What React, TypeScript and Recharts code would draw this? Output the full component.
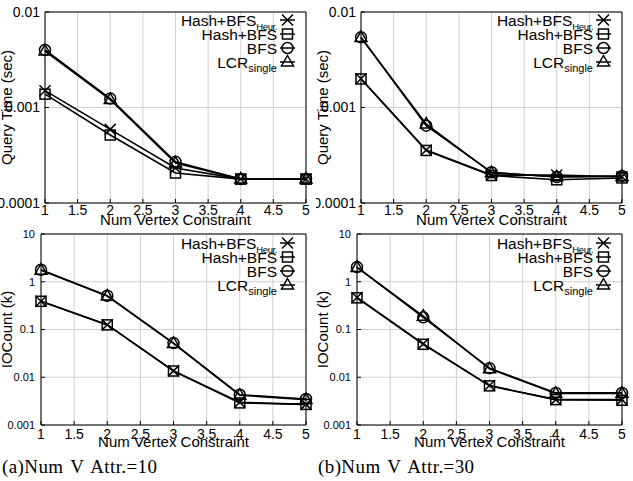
import React from 'react';
import { LineChart, Line, XAxis, YAxis, CartesianGrid, ReferenceArea, Legend, Label } from 'recharts';

const numConstraints = [1, 2, 3, 4, 5];
const xTicks = [1, 1.5, 2, 2.5, 3, 3.5, 4, 4.5, 5];
const timeTicks = [0.0001, 0.001, 0.01];
const ioTicks = [0.001, 0.01, 0.1, 1, 10];

// query time (sec), 10 vertex attributes
const timeHeur10 = [0.0015, 0.00059, 0.000233, 0.000178, 0.000178];
const timeHash10 = [0.00138, 0.000515, 0.000206, 0.000178, 0.000178];
const timeBfs10 = [0.004, 0.00124, 0.00027, 0.000178, 0.000178];
const timeLcr10 = [0.0039, 0.00121, 0.000262, 0.000178, 0.000178];

// query time (sec), 30 vertex attributes
const timeHeur30 = [0.002, 0.000359, 0.000196, 0.000196, 0.000188];
const timeHash30 = [0.00199, 0.000355, 0.000194, 0.000175, 0.000183];
const timeBfs30 = [0.00543, 0.000645, 0.00021, 0.000187, 0.000192];
const timeLcr30 = [0.0054, 0.00067, 0.000207, 0.000188, 0.00019];

// IO count (k), 10 vertex attributes
const ioHeur10 = [0.39, 0.126, 0.0136, 0.003, 0.0027];
const ioHash10 = [0.39, 0.125, 0.0135, 0.0029, 0.0027];
const ioBfs10 = [1.78, 0.51, 0.052, 0.0043, 0.0035];
const ioLcr10 = [1.75, 0.5, 0.051, 0.0042, 0.0034];

// IO count (k), 30 vertex attributes
const ioHeur30 = [0.47, 0.05, 0.0067, 0.0034, 0.0034];
const ioHash30 = [0.46, 0.049, 0.0066, 0.0034, 0.0033];
const ioBfs30 = [2.03, 0.18, 0.0155, 0.0047, 0.0047];
const ioLcr30 = [2.0, 0.19, 0.015, 0.0046, 0.0046];

type Shape = 'cross' | 'square' | 'circle' | 'triangle';

const seriesDefs: { key: string; label: string; sub?: string; subSize?: number; shape: Shape }[] = [
  { key: 'heur', label: 'Hash+BFS', sub: 'Heur.', subSize: 9.5, shape: 'cross' },
  { key: 'hash', label: 'Hash+BFS', shape: 'square' },
  { key: 'bfs', label: 'BFS', shape: 'circle' },
  { key: 'lcr', label: 'LCR', sub: 'single', subSize: 11, shape: 'triangle' },
];

const FONT = '"Liberation Sans", Arial, Helvetica, sans-serif';

function Marker({ shape, cx, cy }: { shape: Shape; cx: number; cy: number }) {
  const st = { stroke: '#000', strokeWidth: 1.5, fill: 'none' };
  if (shape === 'cross') {
    const s = 5.5;
    return <path d={`M${cx - s},${cy - s}L${cx + s},${cy + s}M${cx - s},${cy + s}L${cx + s},${cy - s}`} {...st} />;
  }
  if (shape === 'square') {
    return <rect x={cx - 5} y={cy - 5} width={10} height={10} {...st} />;
  }
  if (shape === 'circle') {
    return <circle cx={cx} cy={cy} r={5.5} {...st} />;
  }
  return <path d={`M${cx},${cy - 6.5}L${cx + 6},${cy + 4}L${cx - 6},${cy + 4}Z`} {...st} />;
}

// legend rows keep the plotting order, whatever order the payload arrives in
function LegendBox({ payload, baseline }: { payload?: any[]; baseline: number }) {
  const keys = new Set((payload || []).map((p) => p.dataKey));
  const items = seriesDefs.filter((d) => keys.has(d.key));
  return (
    <svg width={316} height={90} style={{ display: 'block', fontFamily: FONT }}>
      {items.map((d, i) => {
        const by = baseline + i * 14;
        const cy = by - 5.5;
        return (
          <g key={d.key}>
            <text x={277} y={by} textAnchor="end" fontSize={15.5} fill="#000">
              {d.label}
              {d.sub && (
                <tspan dy={4} fontSize={d.subSize} letterSpacing={d.shape === 'cross' ? -0.4 : 0}>
                  {d.sub}
                </tspan>
              )}
            </text>
            <line x1={280} x2={295} y1={cy} y2={cy} stroke="#000" strokeWidth={1.5} />
            <Marker shape={d.shape} cx={287.5} cy={cy} />
          </g>
        );
      })}
    </svg>
  );
}

interface PanelProps {
  left: number;
  top: number;
  marginTop: number;
  yAxisWidth: number;
  xAxisHeight: number;
  yTicks: number[];
  yLabel: string;
  xTickSize: number;
  yTickSize: number;
  xTickMargin: number;
  yTickMargin: number;
  xLabelOffset: number;
  legendBaseline: number;
  heur: number[];
  hash: number[];
  bfs: number[];
  lcr: number[];
}

function Panel(p: PanelProps) {
  const data = numConstraints.map((x, i) => ({
    x,
    heur: p.heur[i],
    hash: p.hash[i],
    bfs: p.bfs[i],
    lcr: p.lcr[i],
  }));
  const yMin = p.yTicks[0];
  const yMax = p.yTicks[p.yTicks.length - 1];
  return (
    <div style={{ position: 'absolute', left: p.left, top: p.top }}>
      <LineChart
        width={316}
        height={232}
        data={data}
        margin={{ top: p.marginTop, right: 10, bottom: 0, left: 0 }}
        style={{ fontFamily: FONT }}
      >
        <CartesianGrid stroke="#cfcfcf" strokeWidth={1} />
        <XAxis
          dataKey="x"
          type="number"
          domain={[1, 5]}
          ticks={xTicks}
          height={p.xAxisHeight}
          axisLine={false}
          tickLine={{ stroke: '#000' }}
          tickSize={-4}
          tickMargin={p.xTickMargin}
          tick={{ fill: '#000', fontSize: p.xTickSize }}
          interval={0}
        >
          <Label value="Num Vertex Constraint" position="insideBottom" offset={p.xLabelOffset} style={{ fontSize: 15, fill: '#000' }} />
        </XAxis>
        <YAxis
          type="number"
          scale="log"
          domain={[yMin, yMax]}
          allowDataOverflow
          ticks={p.yTicks}
          width={p.yAxisWidth}
          axisLine={false}
          tickLine={{ stroke: '#000' }}
          tickSize={-4}
          tickMargin={p.yTickMargin}
          tick={{ fill: '#000', fontSize: p.yTickSize }}
          tickFormatter={(v: number) => String(v)}
          interval={0}
        >
          <Label
            value={p.yLabel}
            angle={-90}
            position="insideLeft"
            offset={7}
            style={{ fontSize: 15, fill: '#000', textAnchor: 'middle' }}
          />
        </YAxis>
        <ReferenceArea x1={1} x2={5} y1={yMin} y2={yMax} fill="none" stroke="#000" strokeWidth={1} />
        {seriesDefs.map((d) => (
          <Line
            key={d.key}
            dataKey={d.key}
            name={d.label}
            stroke="#000"
            strokeWidth={1.6}
            isAnimationActive={false}
            dot={(dp: any) => <Marker key={`${d.key}-${dp.index}`} shape={d.shape} cx={dp.cx} cy={dp.cy} />}
            activeDot={false}
          />
        ))}
        <Legend
          layout="vertical"
          align="center"
          verticalAlign="middle"
          wrapperStyle={{ left: 0, top: 0, width: 316, height: 90 }}
          content={(lp: any) => <LegendBox payload={lp.payload} baseline={p.legendBaseline} />}
        />
      </LineChart>
    </div>
  );
}

const captionStyle: React.CSSProperties = {
  position: 'absolute',
  top: 456,
  fontFamily: '"Liberation Serif", "DejaVu Serif", serif',
  fontSize: 19,
  letterSpacing: 0.4,
  wordSpacing: 2,
  color: '#000',
  whiteSpace: 'pre',
  lineHeight: '22px',
};

export default function App() {
  const top = {
    top: 0, marginTop: 12, yAxisWidth: 45, xAxisHeight: 29,
    xTickSize: 14, yTickSize: 14, xTickMargin: 6, yTickMargin: 9,
    xLabelOffset: 7, legendBaseline: 25.5, yTicks: timeTicks, yLabel: 'Query Time (sec)',
  };
  const bottom = {
    top: 226, marginTop: 8, yAxisWidth: 41, xAxisHeight: 33,
    xTickSize: 14, yTickSize: 11, xTickMargin: 8, yTickMargin: 10,
    xLabelOffset: 11, legendBaseline: 22.5, yTicks: ioTicks, yLabel: 'IOCount (k)',
  };
  return (
    <div style={{ position: 'absolute', left: 0, top: 0, width: 633, height: 481, background: '#fff', overflow: 'hidden' }}>
      <Panel left={0} {...top} heur={timeHeur10} hash={timeHash10} bfs={timeBfs10} lcr={timeLcr10} />
      <Panel left={316} {...top} heur={timeHeur30} hash={timeHash30} bfs={timeBfs30} lcr={timeLcr30} />
      <Panel left={0} {...bottom} heur={ioHeur10} hash={ioHash10} bfs={ioBfs10} lcr={ioLcr10} />
      <Panel left={316} {...bottom} heur={ioHeur30} hash={ioHash30} bfs={ioBfs30} lcr={ioLcr30} />
      <div style={{ ...captionStyle, left: 2 }}>(a)Num V Attr.=10</div>
      <div style={{ ...captionStyle, left: 318 }}>(b)Num V Attr.=30</div>
    </div>
  );
}
